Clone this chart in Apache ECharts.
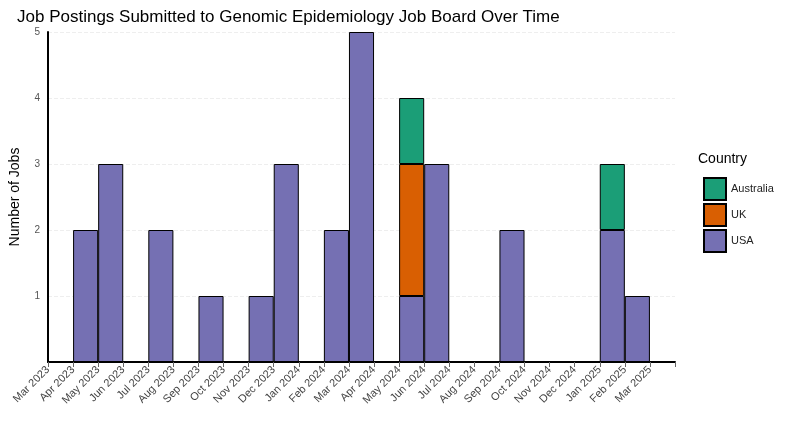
<!DOCTYPE html>
<html><head><meta charset="utf-8">
<script src="https://cdn.jsdelivr.net/npm/echarts@6/dist/echarts.min.js"></script>
<style>body{margin:0}#c{width:789px;height:442px}</style></head>
<body><div id="c"></div>
<script>
// tick labels at month boundaries (last slot is the axis padding, unlabeled)
var tickLabels = ['Mar 2023','Apr 2023','May 2023','Jun 2023','Jul 2023','Aug 2023','Sep 2023','Oct 2023','Nov 2023','Dec 2023','Jan 2024','Feb 2024','Mar 2024','Apr 2024','May 2024','Jun 2024','Jul 2024','Aug 2024','Sep 2024','Oct 2024','Nov 2024','Dec 2024','Jan 2025','Feb 2025','Mar 2025',''];
// monthly bins (start month), plus one empty padding bin
var bins = tickLabels.slice(0, 25);
var usa =       [0,2,3,0,2,0,1,0,1,3,0,2,5,0,1,3,0,0,2,0,0,0,2,1,0];
var uk =        [0,0,0,0,0,0,0,0,0,0,0,0,0,0,2,0,0,0,0,0,0,0,0,0,0];
var australia = [0,0,0,0,0,0,0,0,0,0,0,0,0,0,1,0,0,0,0,0,0,0,1,0,0];

function ser(name, data, color){
  return {name:name,type:'bar',stack:'a',data:data.map(function(v){return v||null;}),
    barWidth:'100%',itemStyle:{color:color,borderColor:'#000',borderWidth:1}};
}
var chart = echarts.init(document.getElementById('c'));
chart.setOption({
  animation:false,
  title:{text:'Job Postings Submitted to Genomic Epidemiology Job Board Over Time',left:12,top:4,
    textStyle:{fontFamily:'Liberation Sans',fontSize:17,fontWeight:'normal',color:'#000'}},
  grid:{left:42,right:114,top:32,bottom:80},
  legend:{orient:'vertical',left:698,top:172,icon:'rect',itemWidth:22,itemHeight:22,itemGap:2,
    data:['Australia','UK','USA'],textStyle:{fontSize:11,color:'#222'}},
  graphic:[{type:'text',left:698,top:152,style:{text:'Country',fontSize:14,fill:'#000',fontFamily:'Liberation Sans'}}],
  xAxis:[
    {type:'category',data:bins,axisLine:{show:false},axisTick:{show:false},axisLabel:{show:false}},
    {type:'category',data:tickLabels,boundaryGap:false,position:'bottom',
      axisLine:{lineStyle:{color:'#000',width:2}},axisTick:{show:true,lineStyle:{color:'#666'}},
      axisLabel:{rotate:45,fontSize:11,color:'#444',margin:6,interval:0}}
  ],
  yAxis:{type:'value',min:0,max:5,interval:1,name:'Number of Jobs',nameLocation:'middle',nameGap:26,
    nameTextStyle:{fontSize:14,color:'#000'},
    axisLine:{show:true,lineStyle:{color:'#000',width:2}},axisTick:{show:false},
    axisLabel:{fontSize:10,color:'#555',showMinLabel:false},
    splitLine:{lineStyle:{type:'dashed',color:'#eee'}}},
  series:[ser('USA',usa,'#7570b3'),ser('UK',uk,'#d95f02'),ser('Australia',australia,'#1b9e77')]
});
</script></body></html>
